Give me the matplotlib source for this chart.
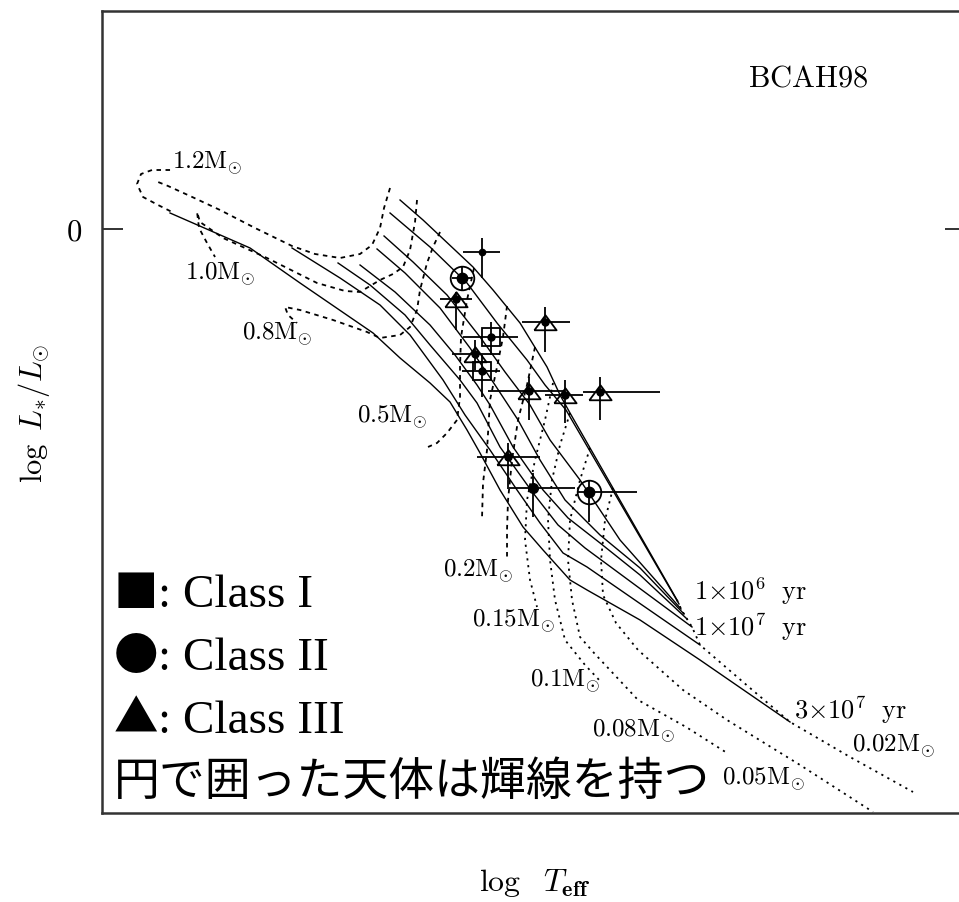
import numpy as np
import matplotlib.pyplot as plt

plt.rcParams['mathtext.fontset'] = 'cm'

# ---- isochrones (log Teff, log L/Lsun), youngest first ----
iso1_t = [3.70, 3.6885, 3.6635, 3.6535, 3.64, 3.6265, 3.62, 3.615, 3.5615]
iso1_l = [0.145, 0.045, -0.19, -0.305, -0.47, -0.69, -0.83, -0.92, -1.855]
iso2_t = [3.705, 3.685, 3.6665, 3.6515, 3.6365, 3.6275, 3.617, 3.5605]
iso2_l = [0.08, -0.09, -0.27, -0.47, -0.655, -0.78, -0.905, -1.875]
iso3_t = [3.708, 3.6935, 3.6765, 3.66, 3.6475, 3.635, 3.625, 3.61, 3.59, 3.5595]
iso3_l = [-0.035, -0.165, -0.33, -0.54, -0.715, -0.88, -1.055, -1.255, -1.555, -1.90]
iso4_t = [3.7115, 3.6975, 3.68, 3.665, 3.6525, 3.641, 3.63, 3.6175, 3.60, 3.58, 3.558]
iso4_l = [-0.10, -0.22, -0.395, -0.595, -0.78, -0.955, -1.155, -1.355, -1.53, -1.695, -1.925]
iso5_t = [3.72, 3.7025, 3.685, 3.6725, 3.6615, 3.655, 3.6435, 3.6285, 3.616, 3.60, 3.58, 3.5565]
iso5_l = [-0.18, -0.315, -0.48, -0.63, -0.78, -0.88, -1.09, -1.305, -1.445, -1.57, -1.73, -1.95]
iso6_t = [3.731, 3.715, 3.6975, 3.685, 3.67, 3.6615, 3.65, 3.6335, 3.621, 3.6075, 3.554]
iso6_l = [-0.17, -0.28, -0.43, -0.58, -0.755, -0.87, -1.09, -1.32, -1.48, -1.595, -1.99]
iso7_t = [3.754, 3.73, 3.71, 3.695, 3.6785, 3.6675, 3.655, 3.6415, 3.63, 3.6185, 3.6065, 3.55]
iso7_l = [-0.095, -0.245, -0.38, -0.53, -0.755, -0.93, -1.105, -1.305, -1.47, -1.62, -1.69, -2.08]
iso8_t = [3.815, 3.775, 3.75, 3.7135, 3.70, 3.685, 3.675, 3.6665, 3.66, 3.65, 3.6385,
          3.6285, 3.615, 3.6065, 3.58, 3.55, 3.505]
iso8_l = [0.08, -0.095, -0.27, -0.52, -0.645, -0.77, -0.865, -1.005, -1.12, -1.305, -1.49,
          -1.605, -1.755, -1.805, -1.955, -2.155, -2.465]

# ---- evolutionary tracks (nan splits a track into pieces) ----
trk12_t = [3.705, 3.708, 3.71, 3.714, 3.72, 3.73, 3.7425, 3.754, 3.7725, 3.79, 3.805, 3.816, 3.821,
           np.nan, 3.815, 3.824, 3.8295, 3.8315, 3.8285, 3.821, 3.814]
trk12_l = [0.205, 0.105, 0.005, -0.08, -0.125, -0.145, -0.125, -0.085, 0.005, 0.095, 0.165, 0.215, 0.235,
           np.nan, 0.295, 0.295, 0.275, 0.225, 0.16, 0.12, 0.085]
trk10_t = [3.6915, 3.6925, 3.695, 3.6985, 3.7035, 3.71, 3.72, 3.7275, 3.7415, 3.7665, 3.7885,
           3.80, 3.8015, 3.8005, 3.7965, 3.7925]
trk10_l = [0.145, 0.035, -0.105, -0.19, -0.225, -0.255, -0.315, -0.31, -0.27, -0.145, -0.045,
           0.035, 0.085, 0.005, -0.07, -0.14]
trk08_t = [3.68, 3.6835, 3.6865, 3.69, 3.6915, 3.695, 3.70, 3.71, 3.7165, 3.7335, 3.75, 3.7575, 3.756, 3.7515]
trk08_l = [-0.015, -0.09, -0.17, -0.305, -0.405, -0.49, -0.53, -0.545, -0.515, -0.455, -0.405, -0.39, -0.43, -0.47]
trk05_t = [3.663, 3.6665, 3.6695, 3.67, 3.67, 3.6715, 3.6765, 3.6815, 3.686]
trk05_l = [-0.195, -0.355, -0.54, -0.69, -0.84, -0.955, -1.02, -1.07, -1.09]
trk03_t = [3.6465, 3.6485, 3.6515, 3.655, 3.6565, 3.6585, 3.659]
trk03_l = [-0.385, -0.54, -0.69, -0.855, -1.105, -1.27, -1.445]
trk02_t = [3.6325, 3.6365, 3.641, 3.644, 3.646, 3.6465, 3.6465]
trk02_l = [-0.59, -0.78, -0.955, -1.155, -1.355, -1.505, -1.655]
trk015_t = [3.6235, 3.6275, 3.6325, 3.6365, 3.6375, 3.635, 3.6315]
trk015_l = [-0.77, -0.955, -1.155, -1.355, -1.555, -1.755, -1.89]
trk01_t = [3.615, 3.62, 3.624, 3.626, 3.625, 3.6225, 3.6175, 3.6075, 3.5995]
trk01_l = [-0.92, -1.08, -1.255, -1.455, -1.655, -1.855, -2.055, -2.18, -2.265]
trk008_t = [3.605, 3.61, 3.615, 3.616, 3.614, 3.61, 3.603, 3.581, 3.557, 3.5365]
trk008_l = [-1.095, -1.255, -1.455, -1.655, -1.855, -2.04, -2.12, -2.355, -2.49, -2.62]
trk005_t = [3.5935, 3.5975, 3.5995, 3.5985, 3.592, 3.581, 3.5585, 3.5365, 3.50, 3.4635]
trk005_l = [-1.295, -1.455, -1.655, -1.83, -1.97, -2.105, -2.305, -2.455, -2.68, -2.915]
trk002_t = [3.5615, 3.5605, 3.5595, 3.558, 3.5565, 3.554, 3.55, 3.525, 3.505, 3.475, 3.4435]
trk002_l = [-1.855, -1.875, -1.90, -1.925, -1.95, -1.99, -2.08, -2.295, -2.465, -2.64, -2.815]

# ---- track / isochrone labels: text, log Teff, log L ----
mass_text = [r'$1.2\mathrm{M}_{\odot}$', r'$1.0\mathrm{M}_{\odot}$', r'$0.8\mathrm{M}_{\odot}$',
             r'$0.5\mathrm{M}_{\odot}$', r'$0.2\mathrm{M}_{\odot}$', r'$0.15\mathrm{M}_{\odot}$',
             r'$0.1\mathrm{M}_{\odot}$', r'$0.08\mathrm{M}_{\odot}$', r'$0.05\mathrm{M}_{\odot}$',
             r'$0.02\mathrm{M}_{\odot}$']
mass_t = [3.814, 3.8075, 3.779, 3.7215, 3.6785, 3.664, 3.635, 3.604, 3.539, 3.474]
mass_l = [0.30, -0.255, -0.555, -0.97, -1.74, -1.99, -2.29, -2.54, -2.78, -2.615]
age_text = [r'$1{\times}10^{6}\ \ \mathrm{yr}$', r'$1{\times}10^{7}\ \ \mathrm{yr}$',
            r'$3{\times}10^{7}\ \ \mathrm{yr}$']
age_t = [3.553, 3.553, 3.503]
age_l = [-1.855, -2.035, -2.45]

# ---- observed sources ----
# class: 'I' square, 'II' filled circle, 'III' triangle, 'IIe' circled (emission), 'x' unclassified
src_class = ['x', 'IIe', 'III', 'I', 'III', 'I', 'III', 'III', 'III', 'III', 'III', 'II', 'IIe']
src_t = [3.659, 3.669, 3.672, 3.6545, 3.6625, 3.659, 3.6275, 3.6355, 3.6175, 3.60, 3.646, 3.6335, 3.6055]
src_l = [-0.115, -0.245, -0.35, -0.54, -0.625, -0.71, -0.465, -0.81, -0.83, -0.815, -1.14, -1.295, -1.315]
src_t_lo = [0.009, 0.005, 0.008, 0.0135, 0.0125, 0.009, 0.0125, 0.018, 0.009, 0.03, 0.016, 0.021, 0.024]
src_t_hi = [0.0095, 0.005, 0.008, 0.014, 0.0115, 0.01, 0.0115, 0.0205, 0.01, 0.0085, 0.0155, 0.013, 0.006]
src_l_lo = [0.13, 0.06, 0.155, 0.09, 0.08, 0.13, 0.15, 0.145, 0.14, 0.14, 0.15, 0.145, 0.15]
src_l_hi = [0.07, 0.06, 0.035, 0.075, 0.07, 0.08, 0.075, 0.07, 0.075, 0.075, 0.07, 0.075, 0.06]

fig = plt.figure(figsize=(9.59, 9.02), dpi=100)
ax = fig.add_axes([0.1064, 0.0987, 0.9009, 0.8891])
ax.set_xlim(3.849, 3.417)
ax.set_ylim(-2.92, 1.09)

isochrones = [(iso1_t, iso1_l), (iso2_t, iso2_l), (iso3_t, iso3_l), (iso4_t, iso4_l),
              (iso5_t, iso5_l), (iso6_t, iso6_l), (iso7_t, iso7_l), (iso8_t, iso8_l)]
for t, l in isochrones:
    ax.plot(t, l, color='black', lw=1.0, solid_joinstyle='round')

dashed_tracks = [(trk12_t, trk12_l), (trk10_t, trk10_l), (trk08_t, trk08_l), (trk05_t, trk05_l),
                 (trk03_t, trk03_l), (trk02_t, trk02_l)]
for t, l in dashed_tracks:
    ax.plot(t, l, color='black', lw=1.3, linestyle=(0, (2.5, 2.5)))
dotted_tracks = [(trk015_t, trk015_l), (trk01_t, trk01_l), (trk008_t, trk008_l),
                 (trk005_t, trk005_l), (trk002_t, trk002_l)]
for t, l in dotted_tracks:
    ax.plot(t, l, color='black', lw=1.3, linestyle=(0, (1.2, 2.6)))

for s, t, l in zip(mass_text, mass_t, mass_l):
    ax.text(t, l, s, fontsize=18, ha='left', va='baseline')
for s, t, l in zip(age_text, age_t, age_l):
    ax.text(t, l, s, fontsize=19, ha='left', va='baseline')
ax.text(3.526, 0.715, r'$\mathrm{BCAH98}$', fontsize=22, ha='left', va='baseline')

# error bars first, symbols on top
tri = [(-1, -0.7), (1, -0.7), (0, 0.65), (-1, -0.7)]
for i, c in enumerate(src_class):
    ax.errorbar(src_t[i], src_l[i],
                xerr=[[src_t_lo[i]], [src_t_hi[i]]], yerr=[[src_l_lo[i]], [src_l_hi[i]]],
                fmt='none', ecolor='black', elinewidth=1.3, capsize=0)
    if c == 'I':
        ax.plot(src_t[i], src_l[i], marker='s', ms=13, mfc='none', mec='black', mew=1.3)
        ax.plot(src_t[i], src_l[i], marker='o', ms=5, color='black')
    elif c == 'III':
        ax.plot(src_t[i], src_l[i], marker=tri, ms=16, mfc='none', mec='black', mew=1.3)
        ax.plot(src_t[i], src_l[i], marker='o', ms=5, color='black')
    elif c == 'II':
        ax.plot(src_t[i], src_l[i], marker='o', ms=7, color='black')
    elif c == 'IIe':
        ax.plot(src_t[i], src_l[i], marker='o', ms=17, mfc='none', mec='black', mew=1.3)
        ax.plot(src_t[i], src_l[i], marker='o', ms=7.5, color='black')
    else:
        ax.plot(src_t[i], src_l[i], marker='o', ms=4.5, color='black')

# axes frame and the single luminosity tick
for side in ['left', 'top', 'bottom', 'right']:
    ax.spines[side].set_linewidth(1.8)
    ax.spines[side].set_color('#333333')
ax.set_xticks([])
ax.set_yticks([0])
ax.set_yticklabels([r'$0$'])
ax.tick_params(axis='y', direction='in', length=15, width=1.3, right=True,
               labelsize=22, pad=14, color='#222222')

fig.text(0.0355, 0.542, r'$\log\ L_{*}/L_{\odot}$', rotation=90, ha='center', va='center', fontsize=22)
fig.text(0.557, 0.021, r'$\log\ \ T_{\mathbf{eff}}$', ha='center', va='center', fontsize=23)

# class key
key_sym = ['■', '●', '▲']
key_txt = [': Class I', ': Class II', ': Class III']
key_y = [0.2569, 0.1783, 0.0998]
for s, txt, y in zip(key_sym, key_txt, key_y):
    ax.text(0.0139, y, s, transform=ax.transAxes, fontsize=32, family='Noto Sans CJK JP',
            ha='left', va='baseline')
    ax.text(0.0648, y, txt, transform=ax.transAxes, fontsize=34, family='Liberation Serif',
            ha='left', va='baseline')
ax.text(0.0139, 0.0224, '円で囲った天体は輝線を持つ', transform=ax.transAxes, fontsize=33,
        family='Noto Sans CJK JP', ha='left', va='baseline')

fig.savefig('out.png', dpi=100)
